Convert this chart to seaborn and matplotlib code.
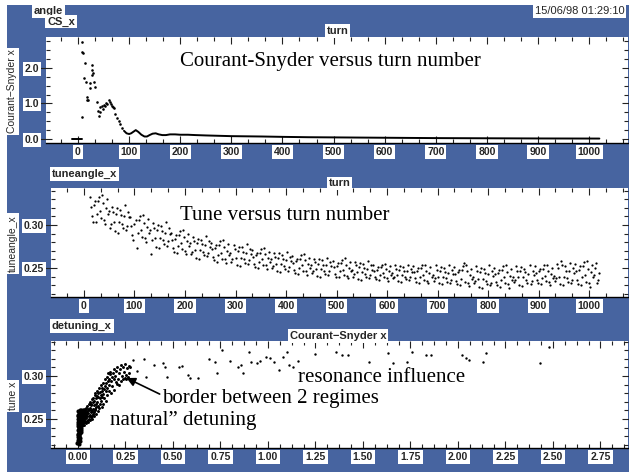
import numpy as np
import pandas as pd
import matplotlib
matplotlib.use("Agg")
import matplotlib.pyplot as plt
from matplotlib.patches import Rectangle
from matplotlib.ticker import AutoMinorLocator, MultipleLocator
import seaborn as sns

sns.set_style("white")
plt.rcParams['font.family'] = ['Liberation Sans', 'DejaVu Sans']

W, H = 629, 476
BLUE = "#4764a0"

# ---------------- data: panel 1 (Courant-Snyder vs turn) ----------------
cs_early_turn = [8, 8, 8, 10, 12, 14, 15, 17, 18, 20, 24, 24, 27, 28, 28, 30, 31, 33,
                 37, 40, 42, 43, 44, 46, 48, 50, 52, 55, 57, 60, 62, 64, 66, 68, 70, 72,
                 76, 80, 82, 86]
cs_early_val = [0.63, 2.74, 2.46, 2.43, 1.71, 2.14, 1.60, 1.10, 1.17, 1.09, 1.43, 1.57,
                1.80, 2.09, 1.94, 1.86, 1.60, 1.46, 1.03, 0.80, 0.66, 0.89, 0.75, 0.94,
                0.85, 0.97, 0.92, 1.00, 0.98, 1.09, 1.03, 0.99, 0.94, 0.90, 0.86, 0.71,
                0.60, 0.51, 0.43, 0.31]
cs_late_turn = [90, 95, 100, 104, 108, 113, 118, 124, 130, 135, 140, 146, 152, 158, 165,
                172, 180, 190, 200, 215, 230, 250, 275, 300, 330, 360, 400, 450, 500, 550,
                600, 650, 700, 800, 900, 1020]
cs_late_val = [0.23, 0.16, 0.14, 0.16, 0.20, 0.25, 0.20, 0.12, 0.07, 0.07, 0.11, 0.15,
               0.16, 0.13, 0.11, 0.11, 0.13, 0.13, 0.12, 0.12, 0.11, 0.10, 0.09, 0.08,
               0.075, 0.07, 0.06, 0.05, 0.045, 0.04, 0.035, 0.03, 0.025, 0.02, 0.015, 0.012]
cs_base_turn = [-12, 8]
cs_base_val = [0.0, 0.0]

turn_ticks = [0, 100, 200, 300, 400, 500, 600, 700, 800, 900, 1000]
turn_labels = ["0", "100", "200", "300", "400", "500", "600", "700", "800", "900", "1000"]
cs_ticks = [0.0, 1.0, 2.0]
cs_labels = ["0.0", "1.0", "2.0"]

# ---------------- data: panel 2 (tune vs turn), two interleaved reads ----------------
tune_turn = [
    12, 16, 20, 24, 28, 32, 36, 40, 44, 48,
    52, 56, 60, 64, 68, 72, 76, 80, 84, 88,
    92, 96, 100, 104, 108, 112, 116, 120, 124, 128,
    132, 136, 140, 144, 148, 152, 156, 160, 164, 168,
    172, 176, 180, 184, 188, 192, 196, 200, 204, 208,
    212, 216, 220, 224, 228, 232, 236, 240, 244, 248,
    252, 256, 260, 264, 268, 272, 276, 280, 284, 288,
    292, 296, 300, 304, 308, 312, 316, 320, 324, 328,
    332, 336, 340, 344, 348, 352, 356, 360, 364, 368,
    372, 376, 380, 384, 388, 392, 396, 400, 404, 408,
    412, 416, 420, 424, 428, 432, 436, 440, 444, 448,
    452, 456, 460, 464, 468, 472, 476, 480, 484, 488,
    492, 496, 500, 504, 508, 512, 516, 520, 524, 528,
    532, 536, 540, 544, 548, 552, 556, 560, 564, 568,
    572, 576, 580, 584, 588, 592, 596, 600, 604, 608,
    612, 616, 620, 624, 628, 632, 636, 640, 644, 648,
    652, 656, 660, 664, 668, 672, 676, 680, 684, 688,
    692, 696, 700, 704, 708, 712, 716, 720, 724, 728,
    732, 736, 740, 744, 748, 752, 756, 760, 764, 768,
    772, 776, 780, 784, 788, 792, 796, 800, 804, 808,
    812, 816, 820, 824, 828, 832, 836, 840, 844, 848,
    852, 856, 860, 864, 868, 872, 876, 880, 884, 888,
    892, 896, 900, 904, 908, 912, 916, 920, 924, 928,
    932, 936, 940, 944, 948, 952, 956, 960, 964, 968,
    972, 976, 980, 984, 988, 992, 996, 1000, 1004, 1008,
    1012, 1016, 1020]
tune_val = [
    0.332, 0.310, 0.323, 0.303, 0.328, 0.316, 0.335, 0.306, 0.320, 0.313,
    0.297, 0.321, 0.304, 0.313, 0.291, 0.318, 0.301, 0.310, 0.294, 0.315,
    0.309, 0.288, 0.301, 0.273, 0.306, 0.294, 0.312, 0.285, 0.298, 0.291,
    0.266, 0.302, 0.285, 0.294, 0.273, 0.299, 0.282, 0.291, 0.276, 0.296,
    0.291, 0.273, 0.284, 0.267, 0.288, 0.279, 0.294, 0.270, 0.281, 0.276,
    0.266, 0.286, 0.271, 0.279, 0.261, 0.283, 0.269, 0.277, 0.264, 0.281,
    0.279, 0.263, 0.273, 0.257, 0.277, 0.268, 0.282, 0.260, 0.270, 0.265,
    0.257, 0.277, 0.262, 0.270, 0.252, 0.274, 0.260, 0.268, 0.255, 0.272,
    0.271, 0.255, 0.265, 0.250, 0.268, 0.260, 0.273, 0.253, 0.262, 0.257,
    0.250, 0.268, 0.255, 0.262, 0.245, 0.265, 0.252, 0.259, 0.247, 0.263,
    0.264, 0.248, 0.258, 0.243, 0.261, 0.253, 0.266, 0.246, 0.255, 0.250,
    0.244, 0.261, 0.249, 0.255, 0.240, 0.259, 0.247, 0.253, 0.242, 0.257,
    0.258, 0.243, 0.252, 0.239, 0.256, 0.248, 0.262, 0.241, 0.250, 0.246,
    0.240, 0.257, 0.245, 0.251, 0.236, 0.255, 0.243, 0.249, 0.238, 0.253,
    0.253, 0.240, 0.248, 0.236, 0.251, 0.244, 0.255, 0.238, 0.246, 0.242,
    0.238, 0.253, 0.242, 0.248, 0.234, 0.251, 0.240, 0.246, 0.236, 0.249,
    0.252, 0.238, 0.246, 0.233, 0.250, 0.242, 0.254, 0.235, 0.244, 0.240,
    0.235, 0.253, 0.240, 0.246, 0.231, 0.250, 0.238, 0.244, 0.233, 0.248,
    0.251, 0.235, 0.245, 0.230, 0.248, 0.256, 0.253, 0.233, 0.242, 0.237,
    0.232, 0.252, 0.237, 0.245, 0.227, 0.249, 0.235, 0.243, 0.230, 0.247,
    0.250, 0.234, 0.244, 0.228, 0.248, 0.239, 0.253, 0.231, 0.241, 0.236,
    0.234, 0.252, 0.239, 0.246, 0.229, 0.249, 0.236, 0.243, 0.231, 0.247,
    0.252, 0.236, 0.246, 0.231, 0.249, 0.241, 0.254, 0.234, 0.243, 0.238,
    0.235, 0.255, 0.240, 0.258, 0.230, 0.252, 0.238, 0.246, 0.233, 0.250,
    0.255, 0.236, 0.248, 0.230, 0.252, 0.242, 0.258, 0.233, 0.245, 0.239,
    0.250, 0.232, 0.244]

tune_turn_b = [
    14, 18, 22, 26, 30, 34, 38, 42, 46, 50,
    54, 58, 62, 66, 70, 74, 78, 82, 86, 90,
    94, 98, 102, 106, 110, 114, 118, 122, 126, 130,
    134, 138, 142, 146, 150, 154, 158, 162, 166, 170,
    174, 178, 182, 186, 190, 194, 198, 202, 206, 210,
    214, 218, 222, 226, 230, 234, 238, 242, 246, 250,
    254, 258, 262, 266, 270, 274, 278, 282, 286, 290,
    294, 298, 302, 306, 310, 314, 318, 322, 326, 330,
    334, 338, 342, 346, 350, 354, 358, 362, 366, 370,
    374, 378, 382, 386, 390, 394, 398, 402, 406, 410,
    414, 418, 422, 426, 430, 434, 438, 442, 446, 450,
    454, 458, 462, 466, 470, 474, 478, 482, 486, 490,
    494, 498, 502, 506, 510, 514, 518, 522, 526, 530,
    534, 538, 542, 546, 550, 554, 558, 562, 566, 570,
    574, 578, 582, 586, 590, 594, 598, 602, 606, 610,
    614, 618, 622, 626, 630, 634, 638, 642, 646, 650,
    654, 658, 662, 666, 670, 674, 678, 682, 686, 690,
    694, 698, 702, 706, 710, 714, 718, 722, 726, 730,
    734, 738, 742, 746, 750, 754, 758, 762, 766, 770,
    774, 778, 782, 786, 790, 794, 798, 802, 806, 810,
    814, 818, 822, 826, 830, 834, 838, 842, 846, 850,
    854, 858, 862, 866, 870, 874, 878, 882, 886, 890,
    894, 898, 902, 906, 910, 914, 918, 922, 926, 930,
    934, 938, 942, 946, 950, 954, 958, 962, 966, 970,
    974, 978, 982, 986, 990, 994, 998, 1002, 1006, 1010,
    1014, 1018]
tune_val_b = [
    0.321, 0.304, 0.328, 0.313, 0.333, 0.308, 0.325, 0.301, 0.330, 0.316,
    0.301, 0.315, 0.293, 0.320, 0.304, 0.312, 0.296, 0.323, 0.299, 0.309,
    0.299, 0.283, 0.306, 0.291, 0.310, 0.286, 0.302, 0.280, 0.307, 0.294,
    0.282, 0.296, 0.275, 0.300, 0.285, 0.293, 0.278, 0.303, 0.281, 0.290,
    0.283, 0.269, 0.288, 0.276, 0.293, 0.272, 0.286, 0.266, 0.290, 0.279,
    0.269, 0.281, 0.262, 0.284, 0.271, 0.278, 0.265, 0.287, 0.268, 0.275,
    0.272, 0.259, 0.277, 0.265, 0.281, 0.261, 0.274, 0.256, 0.278, 0.268,
    0.260, 0.272, 0.253, 0.275, 0.262, 0.269, 0.256, 0.278, 0.259, 0.266,
    0.263, 0.251, 0.268, 0.257, 0.272, 0.254, 0.266, 0.249, 0.269, 0.260,
    0.252, 0.263, 0.246, 0.267, 0.255, 0.261, 0.249, 0.269, 0.251, 0.258,
    0.256, 0.244, 0.261, 0.250, 0.265, 0.247, 0.259, 0.242, 0.262, 0.253,
    0.247, 0.257, 0.241, 0.260, 0.249, 0.254, 0.243, 0.262, 0.246, 0.252,
    0.251, 0.240, 0.256, 0.246, 0.259, 0.242, 0.253, 0.238, 0.257, 0.248,
    0.243, 0.253, 0.237, 0.256, 0.245, 0.250, 0.239, 0.258, 0.242, 0.248,
    0.247, 0.237, 0.251, 0.242, 0.254, 0.239, 0.249, 0.235, 0.252, 0.244,
    0.240, 0.249, 0.235, 0.252, 0.242, 0.247, 0.237, 0.254, 0.239, 0.245,
    0.245, 0.234, 0.250, 0.240, 0.253, 0.236, 0.247, 0.232, 0.251, 0.242,
    0.238, 0.248, 0.232, 0.251, 0.240, 0.245, 0.234, 0.253, 0.236, 0.243,
    0.243, 0.231, 0.248, 0.237, 0.252, 0.234, 0.246, 0.229, 0.249, 0.240,
    0.235, 0.247, 0.228, 0.250, 0.237, 0.244, 0.231, 0.253, 0.233, 0.241,
    0.243, 0.230, 0.248, 0.236, 0.252, 0.232, 0.245, 0.227, 0.249, 0.239,
    0.236, 0.247, 0.230, 0.251, 0.239, 0.245, 0.233, 0.253, 0.235, 0.242,
    0.244, 0.232, 0.249, 0.238, 0.253, 0.235, 0.247, 0.230, 0.250, 0.241,
    0.238, 0.250, 0.231, 0.253, 0.240, 0.247, 0.234, 0.256, 0.236, 0.244,
    0.246, 0.231, 0.252, 0.239, 0.257, 0.234, 0.249, 0.228, 0.254, 0.242,
    0.256, 0.236]

tune_ticks = [0.25, 0.30]
tune_labels = ["0.25", "0.30"]

# ---------------- data: panel 3 (tune vs Courant-Snyder) ----------------
# dense core near zero
det_core_cs = [
    -0.003, 0.002, 0.005, 0.009,
    -0.001, 0.004, 0.008, 0.012,
    0.001, 0.006, 0.010, 0.014,
    -0.002, 0.003, 0.007, 0.011, 0.015, 0.018,
    0.000, 0.005, 0.009, 0.013, 0.017, 0.021,
    0.002, 0.006, 0.010, 0.015, 0.019, 0.024, 0.027,
    0.001, 0.004, 0.008, 0.012, 0.016, 0.020, 0.025, 0.029, 0.033,
    -0.002, 0.003, 0.007, 0.011, 0.014, 0.018, 0.022, 0.026, 0.031, 0.036, 0.040,
    0.001, 0.005, 0.009, 0.013, 0.017, 0.023, 0.028, 0.034,
    0.002, 0.008, 0.000, 0.004, 0.007, 0.003, 0.006, 0.001, 0.004, 0.002, 0.005]
det_core_tune = [
    0.222, 0.223, 0.225, 0.224,
    0.229, 0.227, 0.230, 0.228,
    0.233, 0.232, 0.234, 0.235,
    0.237, 0.238, 0.236, 0.239, 0.237, 0.240,
    0.242, 0.241, 0.243, 0.242, 0.244, 0.243,
    0.246, 0.245, 0.247, 0.246, 0.248, 0.247, 0.249,
    0.250, 0.252, 0.249, 0.251, 0.250, 0.252, 0.251, 0.253, 0.252,
    0.255, 0.254, 0.256, 0.254, 0.257, 0.255, 0.256, 0.254, 0.257, 0.255, 0.257,
    0.259, 0.258, 0.260, 0.259, 0.261, 0.259, 0.260, 0.261,
    0.226, 0.226, 0.231, 0.230, 0.233, 0.235, 0.240, 0.244, 0.248, 0.253, 0.221]
# rising band ("natural" detuning)
det_band_cs = [
    0.031, 0.032, 0.034, 0.035, 0.036, 0.037, 0.038, 0.039,
    0.041, 0.042, 0.043, 0.044, 0.046, 0.047, 0.048, 0.049,
    0.051, 0.052, 0.053, 0.055, 0.056, 0.057, 0.058, 0.059,
    0.061, 0.062, 0.063, 0.064, 0.066, 0.067, 0.068, 0.069,
    0.071, 0.072, 0.073, 0.075, 0.076, 0.077, 0.078, 0.079,
    0.081, 0.082, 0.084, 0.085, 0.086, 0.088, 0.089,
    0.091, 0.092, 0.093, 0.095, 0.096, 0.097, 0.099,
    0.101, 0.102, 0.104, 0.105, 0.107, 0.108,
    0.111, 0.112, 0.114, 0.115, 0.117, 0.119,
    0.121, 0.123, 0.124, 0.126, 0.127, 0.129,
    0.131, 0.132, 0.134, 0.136, 0.138,
    0.141, 0.143, 0.145, 0.147, 0.149,
    0.151, 0.153, 0.155, 0.157, 0.159,
    0.161, 0.163, 0.165, 0.168,
    0.171, 0.173, 0.176, 0.178,
    0.181, 0.184, 0.187, 0.189,
    0.192, 0.195, 0.198,
    0.202, 0.205, 0.208,
    0.212, 0.215, 0.218,
    0.222, 0.226, 0.229,
    0.232, 0.236, 0.239,
    0.242, 0.245, 0.248,
    0.251, 0.254, 0.257,
    0.262, 0.266, 0.271, 0.276]
det_band_tune = [
    0.243, 0.258, 0.250, 0.262, 0.246, 0.254, 0.260, 0.248,
    0.256, 0.245, 0.263, 0.251, 0.259, 0.248, 0.265, 0.254,
    0.262, 0.249, 0.257, 0.246, 0.267, 0.253, 0.260, 0.250,
    0.255, 0.270, 0.249, 0.263, 0.258, 0.252, 0.268, 0.261,
    0.266, 0.254, 0.273, 0.259, 0.250, 0.270, 0.262, 0.256,
    0.275, 0.258, 0.266, 0.253, 0.271, 0.262, 0.278,
    0.260, 0.280, 0.268, 0.256, 0.274, 0.264, 0.277,
    0.270, 0.283, 0.259, 0.276, 0.265, 0.280,
    0.286, 0.263, 0.274, 0.281, 0.268, 0.278,
    0.271, 0.289, 0.264, 0.282, 0.276, 0.286,
    0.292, 0.268, 0.279, 0.285, 0.274,
    0.288, 0.296, 0.271, 0.282, 0.292,
    0.299, 0.278, 0.286, 0.294, 0.304,
    0.283, 0.297, 0.290, 0.302,
    0.305, 0.280, 0.294, 0.299,
    0.288, 0.303, 0.296, 0.308,
    0.284, 0.300, 0.293,
    0.306, 0.291, 0.310,
    0.297, 0.303, 0.289,
    0.308, 0.294, 0.313,
    0.300, 0.311, 0.296,
    0.305, 0.298, 0.314,
    0.301, 0.297, 0.309,
    0.299, 0.312, 0.303, 0.311]
# sparse points ("resonance influence")
det_sparse_cs = [
    0.29, 0.31, 0.35, 0.36, 0.40, 0.45, 0.46, 0.47, 0.53, 0.55, 0.58, 0.59, 0.63,
    0.69, 0.72, 0.73, 0.76, 0.80, 0.84, 0.86, 0.87, 0.90, 0.91, 0.94, 0.96, 0.99,
    1.01, 1.03, 1.06, 1.08, 1.10, 1.11, 1.13, 1.16, 1.25, 1.36, 1.39, 1.42, 1.53,
    1.63, 1.66, 1.73, 1.76, 1.83, 1.86, 2.02, 2.04, 2.06, 2.13, 2.15, 2.43, 2.48]
det_sparse_tune = [
    0.319, 0.306, 0.320, 0.299, 0.313, 0.315, 0.311, 0.299, 0.310, 0.312, 0.301, 0.298, 0.298,
    0.320, 0.316, 0.303, 0.330, 0.318, 0.310, 0.313, 0.303, 0.328, 0.316, 0.315, 0.317, 0.322,
    0.321, 0.316, 0.307, 0.322, 0.328, 0.313, 0.310, 0.318, 0.326, 0.328, 0.324, 0.325, 0.316,
    0.327, 0.315, 0.316, 0.328, 0.324, 0.325, 0.324, 0.321, 0.319, 0.316, 0.327, 0.315, 0.334]

cs_x_ticks = [0.00, 0.25, 0.50, 0.75, 1.00, 1.25, 1.50, 1.75, 2.00, 2.25, 2.50, 2.75]
cs_x_labels = ["0.00", "0.25", "0.50", "0.75", "1.00", "1.25", "1.50", "1.75",
               "2.00", "2.25", "2.50", "2.75"]

# ---------------- figure ----------------
fig = plt.figure(figsize=(W / 100, H / 100), dpi=100)
fig.patch.set_facecolor('white')
fig.patches.append(Rectangle((7 / W, 4 / H), 622 / W, 467 / H, transform=fig.transFigure,
                             facecolor=BLUE, edgecolor='none', zorder=-10))


def make_ax(left, top, right, bottom):
    return fig.add_axes([left / W, 1 - bottom / H, (right - left) / W, (bottom - top) / H])


BOX = dict(facecolor='white', edgecolor='none', pad=1.3)


def ftext(x, y, s, **kw):
    kw.setdefault('fontsize', 8)
    kw.setdefault('fontweight', 'bold')
    kw.setdefault('va', 'center')
    kw.setdefault('bbox', BOX)
    return fig.text(x / W, 1 - y / H, s, **kw)


def style(ax, xt, xl, yt, yl, xminor, yminor):
    ax.set_facecolor('white')
    for s in ['left', 'top', 'right']:
        ax.spines[s].set_visible(False)
    ax.spines['bottom'].set_color('black')
    ax.spines['bottom'].set_linewidth(1.0)
    ax.set_xticks(xt)
    ax.set_xticklabels(xl)
    ax.set_yticks(yt)
    ax.set_yticklabels(yl)
    ax.xaxis.set_minor_locator(AutoMinorLocator(xminor))
    ax.yaxis.set_minor_locator(MultipleLocator(yminor))
    ax.tick_params(which='both', direction='in', top=True, right=True, bottom=True,
                   left=True, color='#222222', width=0.8)
    ax.tick_params(which='major', length=5)
    ax.tick_params(which='minor', length=3)
    ax.tick_params(axis='x', which='major', labelsize=7.5, pad=3)
    ax.tick_params(axis='y', which='major', direction='inout', length=8, labelsize=7.5, pad=1)
    for lab in ax.get_xticklabels() + ax.get_yticklabels():
        lab.set_bbox(dict(facecolor='white', edgecolor='none', pad=1.4))
        lab.set_fontweight('bold')
    ax.set_xlabel('')
    ax.set_ylabel('')


MS = 3.5

# Panel 1
ax1 = make_ax(46, 37, 628, 143)
sns.lineplot(x=cs_base_turn, y=cs_base_val, ax=ax1, color='black', lw=1.4, estimator=None, sort=False)
sns.lineplot(x=cs_late_turn, y=cs_late_val, ax=ax1, color='black', lw=1.4, estimator=None, sort=False)
sns.scatterplot(x=cs_early_turn, y=cs_early_val, ax=ax1, color='black', s=MS, linewidth=0)
ax1.set_xlim(-62.6, 1076)
ax1.set_ylim(-0.113, 2.873)
style(ax1, turn_ticks, turn_labels, cs_ticks, cs_labels, 3, 0.25)

# Panel 2
ax2 = make_ax(51, 188, 628, 297)
sns.scatterplot(x=tune_turn, y=tune_val, ax=ax2, color='black', s=2.6, linewidth=0)
sns.scatterplot(x=tune_turn_b, y=tune_val_b, ax=ax2, color='black', s=2.6, linewidth=0)
ax2.set_xlim(-65.3, 1077)
ax2.set_ylim(0.2163, 0.343)
style(ax2, turn_ticks, turn_labels, tune_ticks, tune_labels, 3, 0.01)

# Panel 3
ax3 = make_ax(51, 341, 628, 448)
sns.scatterplot(x=det_core_cs, y=det_core_tune, ax=ax3, color='black', s=9, linewidth=0)
sns.scatterplot(x=det_band_cs, y=det_band_tune, ax=ax3, color='black', s=4.5, linewidth=0)
sns.scatterplot(x=det_sparse_cs, y=det_sparse_tune, ax=ax3, color='black', s=3, linewidth=0)
ax3.set_xlim(-0.142, 2.895)
ax3.set_ylim(0.2163, 0.3407)
style(ax3, cs_x_ticks, cs_x_labels, tune_ticks, tune_labels, 4, 0.01)
ax3.annotate('', xy=(0.255, 0.2977), xytext=(0.43, 0.279), xycoords='data',
             arrowprops=dict(arrowstyle='-|>', color='black', lw=1.2, mutation_scale=13,
                             shrinkA=0, shrinkB=0))

# Header / label boxes
ftext(34, 11, 'angle')
ftext(47, 21.5, 'CS_x')
ftext(535, 11, '15/06/98 01:29:10', fontweight='normal')
ftext(337.5, 31, 'turn', ha='center')
ftext(52, 174, 'tuneangle_x')
ftext(339.5, 183.5, 'turn', ha='center')
ftext(52, 326, 'detuning_x')
ftext(338, 336, 'Courant\u2212Snyder x', ha='center')

ftext(12.5, 91.5, 'Courant\u2212Snyder x', rotation=90, ha='center', fontweight='normal', fontsize=7.5)
ftext(12.5, 243.5, 'tuneangle_x', rotation=90, ha='center', fontweight='normal', fontsize=7.5)
ftext(12.5, 396, 'tune x', rotation=90, ha='center', fontweight='normal', fontsize=7.5)

# Annotations in serif
SERIF = dict(family=['Liberation Serif', 'DejaVu Serif'], fontsize=15, va='baseline',
             ha='left', color='black')
fig.text(180 / W, 1 - 66 / H, 'Courant-Snyder versus turn number', **SERIF)
fig.text(180 / W, 1 - 220 / H, 'Tune versus turn number', **SERIF)
fig.text(298 / W, 1 - 382 / H, 'resonance influence', **SERIF)
fig.text(162 / W, 1 - 403 / H, 'border between 2 regimes', **SERIF)
fig.text(110 / W, 1 - 425 / H, 'natural\u201d detuning', **SERIF)

fig.savefig('out.png', dpi=100, facecolor='white')
